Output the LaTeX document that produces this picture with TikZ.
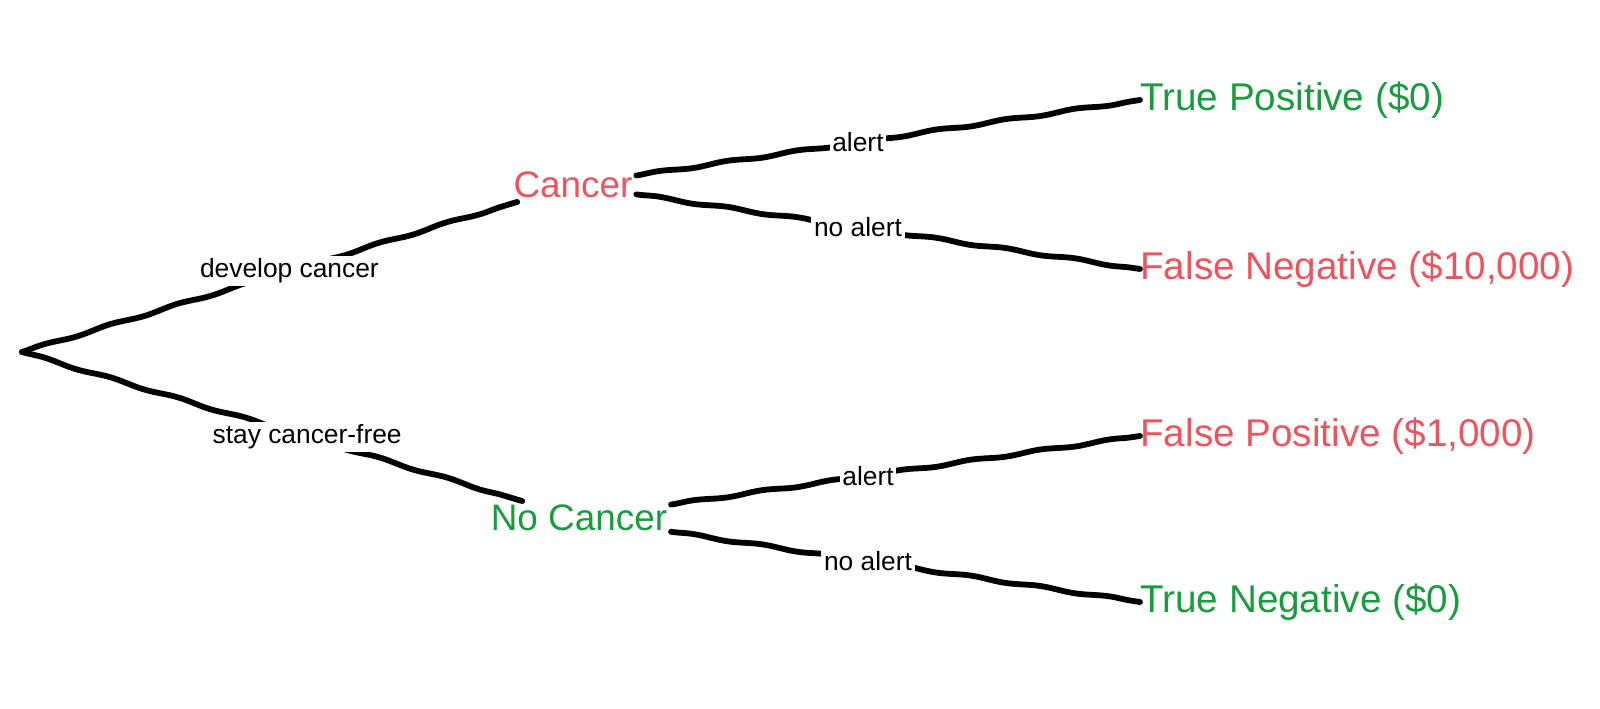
\documentclass[tikz,border=0pt]{standalone}
\usepackage{fontspec}
\setmainfont{Liberation Sans}
\usetikzlibrary{decorations.pathmorphing}
\definecolor{badred}{RGB}{238,84,94}
\definecolor{goodgreen}{RGB}{24,156,62}
\begin{document}
\begin{tikzpicture}[x=0.02cm, y=-0.02cm,
  branch/.style={line width=3.3pt, line cap=round,
    decorate, decoration={snake, amplitude=0.6pt, segment length=40pt}},
  edgelbl/.style={fill=white, inner sep=1.5pt, font=\fontsize{15}{18}\selectfont},
  state/.style={inner sep=2pt, font=\fontsize{21}{25}\selectfont},
  outcome/.style={anchor=west, inner sep=0pt, font=\fontsize{22}{26}\selectfont}]
  \useasboundingbox (0,0) rectangle (1600,709);
  \coordinate (root) at (22,352);
  \node[state, text=badred] (cancer) at (573,185) {Cancer};
  \node[state, text=goodgreen] (nocancer) at (579,518) {No Cancer};
  \node[outcome, text=goodgreen] (tp) at (1140,100) {True Positive (\$0)};
  \node[outcome, text=badred] (fn) at (1140,269) {False Negative (\$10,000)};
  \node[outcome, text=badred] (fp) at (1140,436) {False Positive (\$1,000)};
  \node[outcome, text=goodgreen] (tn) at (1140,602) {True Negative (\$0)};
  % first split
  \draw[branch] (root) -- node[edgelbl, pos=.54] {develop cancer} (cancer);
  \draw[branch] (root) -- node[edgelbl, pos=.57] {stay cancer-free} (nocancer);
  % second split
  \draw[branch] (cancer) -- node[edgelbl, pos=.44] {alert} (tp.west);
  \draw[branch] (cancer) -- node[edgelbl, pos=.44] {no alert} (fn.west);
  \draw[branch] (nocancer) -- node[edgelbl, pos=.42] {alert} (fp.west);
  \draw[branch] (nocancer) -- node[edgelbl, pos=.42] {no alert} (tn.west);
\end{tikzpicture}
\end{document}
